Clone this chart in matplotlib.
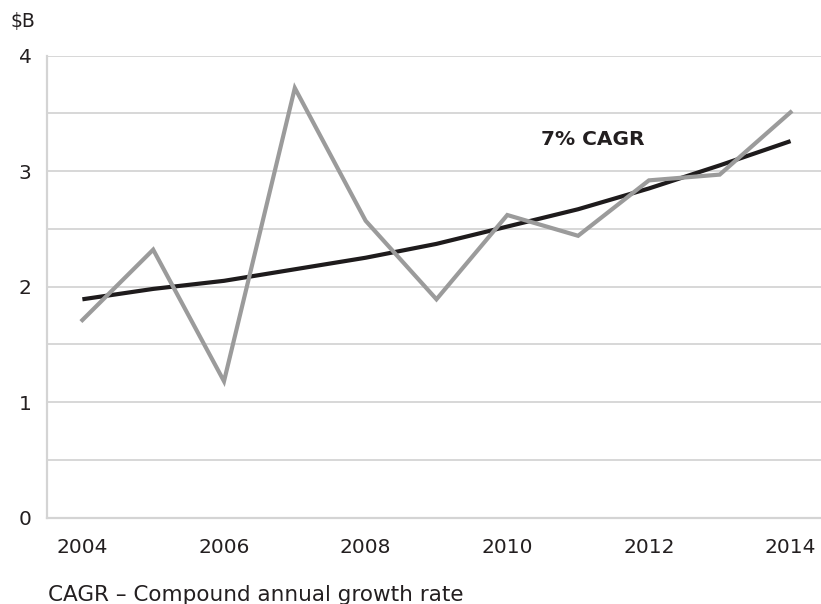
import matplotlib
matplotlib.use("Agg")
import matplotlib.pyplot as plt

plt.rcParams['font.family'] = ['DejaVu Sans']

years = [2004, 2005, 2006, 2007, 2008, 2009, 2010, 2011, 2012, 2013, 2014]
revenue = [1.71, 2.32, 1.18, 3.72, 2.57, 1.89, 2.62, 2.44, 2.92, 2.97, 3.51]
trend = [1.89, 1.98, 2.05, 2.15, 2.25, 2.37, 2.52, 2.67, 2.85, 3.05, 3.26]
year_ticks = [2004, 2006, 2008, 2010, 2012, 2014]
value_ticks = [0, 1, 2, 3, 4]
grid_levels = [0.5, 1, 1.5, 2, 2.5, 3, 3.5, 4]

fig = plt.figure(figsize=(8.21, 6.04), dpi=100)
ax = fig.add_axes([0.0572, 0.1432, 0.9428, 0.7646])

grid_color = '#d4d4d4'
for g in grid_levels:
    ax.axhline(g, color=grid_color, lw=1.3, zorder=1)

ax.plot(years, trend, color='#1e1b1c', lw=3.0, solid_capstyle='butt', zorder=3)
ax.plot(years, revenue, color='#9b9b9b', lw=3.0, solid_joinstyle='miter', zorder=4)

ax.set_xlim(2003.5, 2014.43)
ax.set_ylim(0, 4)
ax.set_xticks(year_ticks)
ax.set_xticklabels([str(y) for y in year_ticks])
ax.set_yticks(value_ticks)
ax.set_yticklabels([str(v) for v in value_ticks])
ax.tick_params(axis='both', length=0, labelsize=14.5, colors='#231f20')
ax.tick_params(axis='x', pad=15)
ax.tick_params(axis='y', pad=11)

for side in ['top', 'right']:
    ax.spines[side].set_visible(False)
for side in ['left', 'bottom']:
    ax.spines[side].set_color(grid_color)
    ax.spines[side].set_linewidth(1.6)

ax.text(2011.2, 3.27, '7% CAGR', fontsize=14.5, fontweight='bold',
        color='#231f20', ha='center', va='center')

fig.text(35 / 821, 1 - 22 / 604, '$B', fontsize=13.5, color='#231f20',
         ha='right', va='center')
fig.text(48 / 821, 1 - 595 / 604, 'CAGR – Compound annual growth rate',
         fontsize=15.5, color='#231f20', ha='left', va='center')

fig.savefig('out.png', dpi=100)
